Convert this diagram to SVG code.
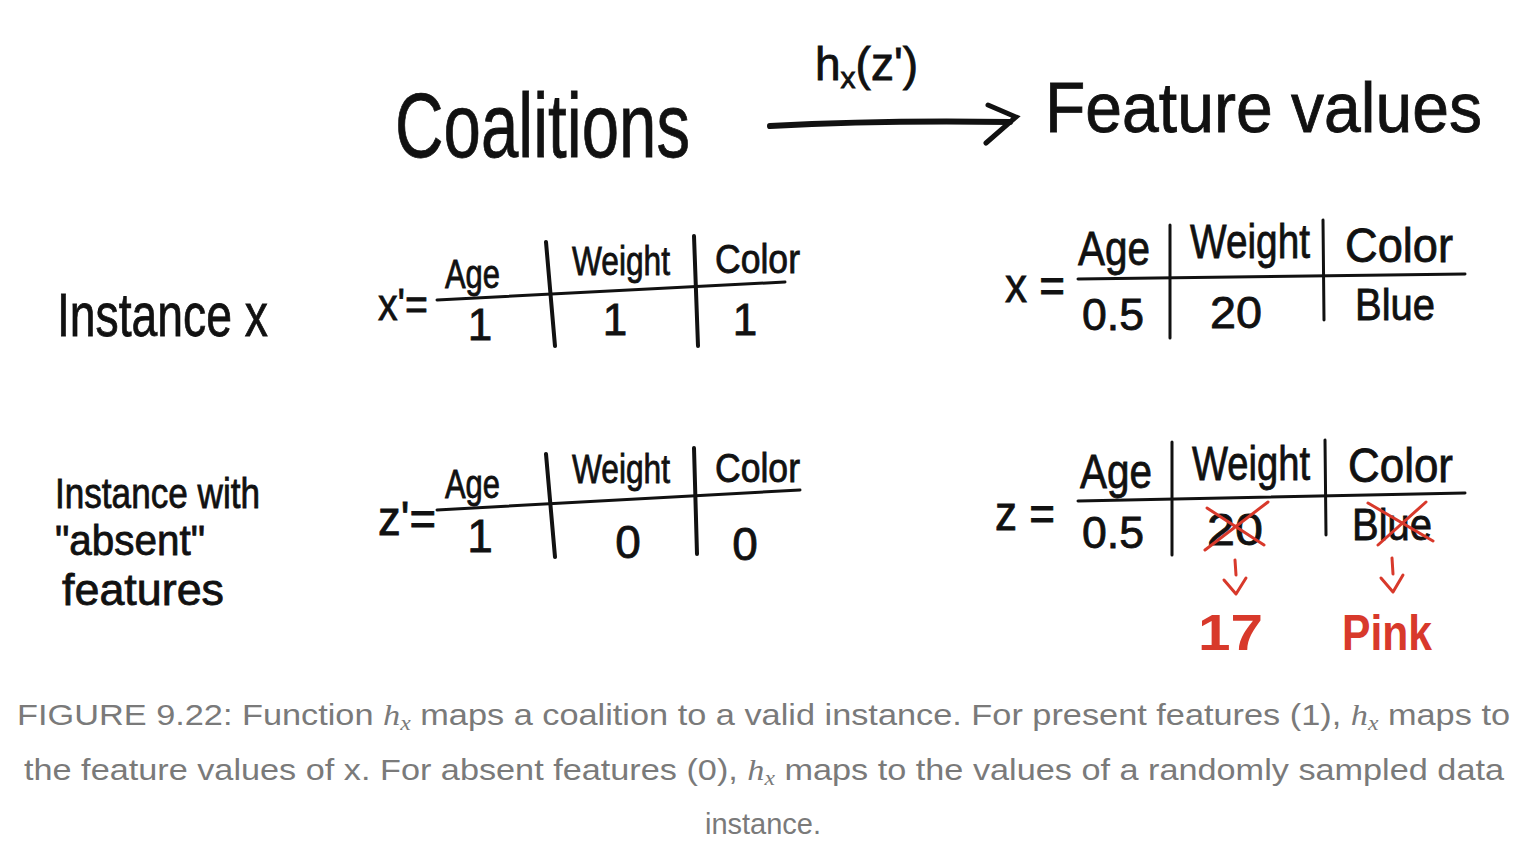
<svg xmlns="http://www.w3.org/2000/svg" width="1526" height="854" viewBox="0 0 1526 854">
<style>
.h{font-family:"Liberation Sans","DejaVu Sans",sans-serif;fill:#111;stroke:#111;stroke-width:0.8}
.r{font-family:"Liberation Sans","DejaVu Sans",sans-serif;fill:#d8392b;font-weight:bold}
.ln{stroke:#111;stroke-linecap:round;fill:none}
.rl{stroke:#d8392b;stroke-width:3;stroke-linecap:round;stroke-linejoin:round;fill:none}
.cap{font-family:"Liberation Sans","DejaVu Sans",sans-serif;fill:#7a7a7a;font-size:29px}
.m{font-family:"Liberation Serif","DejaVu Serif",serif;font-style:italic}
</style>
<rect width="1526" height="854" fill="#fff"/>
<g id="title">
<text class="h" x="395" y="157" font-size="90" textLength="295" lengthAdjust="spacingAndGlyphs">Coalitions</text>
<text class="h" x="1045" y="132" font-size="70" textLength="437" lengthAdjust="spacingAndGlyphs">Feature values</text>
</g>
<g id="connectors">
<path class="ln" stroke-width="6" d="M770 126 Q880 120 1010 122"/>
<path class="ln" stroke-width="5" d="M988 105 L1016 117 L986 143"/>
<text class="h" x="815" y="80" font-size="46">h<tspan font-size="30" dy="8">x</tspan><tspan dy="-8">(z')</tspan></text>
</g>
<g id="label-instance-x">
<text class="h" x="57" y="336" font-size="62" textLength="211" lengthAdjust="spacingAndGlyphs">Instance x</text>
</g>
<g id="label-instance-absent">
<text class="h" x="55" y="508" font-size="42" textLength="205" lengthAdjust="spacingAndGlyphs">Instance with</text>
<text class="h" x="55" y="555" font-size="42" textLength="150" lengthAdjust="spacingAndGlyphs">"absent"</text>
<text class="h" x="62" y="605" font-size="44" textLength="162" lengthAdjust="spacingAndGlyphs">features</text>
</g>
<g id="table-xprime">
<text class="h" x="378" y="320" font-size="44" textLength="50" lengthAdjust="spacingAndGlyphs">x'=</text>
<path class="ln" stroke-width="3" d="M437 300 L785 282"/>
<path class="ln" stroke-width="4" d="M546 242 L555 346 M694 236 L698 346"/>
<text class="h" x="445" y="288" font-size="40" textLength="55" lengthAdjust="spacingAndGlyphs">Age</text>
<text class="h" x="572" y="275" font-size="40" textLength="98" lengthAdjust="spacingAndGlyphs">Weight</text>
<text class="h" x="715" y="273" font-size="40" textLength="85" lengthAdjust="spacingAndGlyphs">Color</text>
<g class="h" font-size="44" text-anchor="middle">
<text x="480" y="340">1</text><text x="615" y="335">1</text><text x="745" y="335">1</text>
</g>
</g>
<g id="table-zprime">
<text class="h" x="378" y="535" font-size="48" textLength="58" lengthAdjust="spacingAndGlyphs">z'=</text>
<path class="ln" stroke-width="3" d="M437 510 L800 490"/>
<path class="ln" stroke-width="4" d="M546 454 L555 557 M694 448 L697 554"/>
<text class="h" x="445" y="498" font-size="40" textLength="55" lengthAdjust="spacingAndGlyphs">Age</text>
<text class="h" x="572" y="483" font-size="40" textLength="98" lengthAdjust="spacingAndGlyphs">Weight</text>
<text class="h" x="715" y="482" font-size="40" textLength="85" lengthAdjust="spacingAndGlyphs">Color</text>
<g class="h" font-size="46" text-anchor="middle">
<text x="480" y="552">1</text><text x="628" y="558">0</text><text x="745" y="560">0</text>
</g>
</g>
<g id="table-x">
<text class="h" x="1005" y="302" font-size="48" textLength="60" lengthAdjust="spacingAndGlyphs">x =</text>
<path class="ln" stroke-width="3" d="M1078 279 L1465 274"/>
<path class="ln" stroke-width="3" d="M1170 225 L1170 338 M1323 220 L1324 320"/>
<text class="h" x="1078" y="265" font-size="48" textLength="72" lengthAdjust="spacingAndGlyphs">Age</text>
<text class="h" x="1190" y="258" font-size="48" textLength="120" lengthAdjust="spacingAndGlyphs">Weight</text>
<text class="h" x="1345" y="262" font-size="48" textLength="108" lengthAdjust="spacingAndGlyphs">Color</text>
<text class="h" x="1082" y="330" font-size="44" textLength="62" lengthAdjust="spacingAndGlyphs">0.5</text>
<text class="h" x="1210" y="328" font-size="44" textLength="52" lengthAdjust="spacingAndGlyphs">20</text>
<text class="h" x="1355" y="320" font-size="44" textLength="80" lengthAdjust="spacingAndGlyphs">Blue</text>
</g>
<g id="table-z">
<text class="h" x="995" y="530" font-size="48" textLength="60" lengthAdjust="spacingAndGlyphs">z =</text>
<path class="ln" stroke-width="3" d="M1078 501 L1465 493"/>
<path class="ln" stroke-width="3" d="M1172 442 L1172 555 M1325 440 L1326 535"/>
<text class="h" x="1080" y="488" font-size="48" textLength="72" lengthAdjust="spacingAndGlyphs">Age</text>
<text class="h" x="1192" y="480" font-size="48" textLength="118" lengthAdjust="spacingAndGlyphs">Weight</text>
<text class="h" x="1348" y="482" font-size="48" textLength="105" lengthAdjust="spacingAndGlyphs">Color</text>
<text class="h" x="1082" y="548" font-size="44" textLength="62" lengthAdjust="spacingAndGlyphs">0.5</text>
<text class="h" x="1207" y="545" font-size="44" textLength="56" lengthAdjust="spacingAndGlyphs">20</text>
<text class="h" x="1352" y="540" font-size="44" textLength="80" lengthAdjust="spacingAndGlyphs">Blue</text>
<path class="rl" d="M1205 550 L1268 502 M1207 508 L1264 545"/>
<path class="rl" d="M1378 545 L1426 502 M1368 503 L1433 541"/>
</g>
<g id="replacement-17">
<path class="rl" d="M1235 560 L1236 575 M1224 580 L1236 594 L1246 578"/>
<text class="r" x="1198" y="650" font-size="50" textLength="65" lengthAdjust="spacingAndGlyphs">17</text>
</g>
<g id="replacement-pink">
<path class="rl" d="M1392 558 L1393 574 M1381 578 L1393 592 L1403 575"/>
<text class="r" x="1342" y="650" font-size="50" textLength="90" lengthAdjust="spacingAndGlyphs">Pink</text>
</g>
<g id="caption">
<text class="cap" x="17" y="725" textLength="1493" lengthAdjust="spacingAndGlyphs">FIGURE 9.22: Function <tspan class="m">h</tspan><tspan class="m" font-size="20" dy="5">x</tspan><tspan dy="-5"> maps a coalition to a valid instance. For present features (1), </tspan><tspan class="m">h</tspan><tspan class="m" font-size="20" dy="5">x</tspan><tspan dy="-5"> maps to</tspan></text>
<text class="cap" x="24" y="780" textLength="1480" lengthAdjust="spacingAndGlyphs">the feature values of x. For absent features (0), <tspan class="m">h</tspan><tspan class="m" font-size="20" dy="5">x</tspan><tspan dy="-5"> maps to the values of a randomly sampled data</tspan></text>
<text class="cap" x="763" y="834" text-anchor="middle">instance.</text>
</g>
</svg>
